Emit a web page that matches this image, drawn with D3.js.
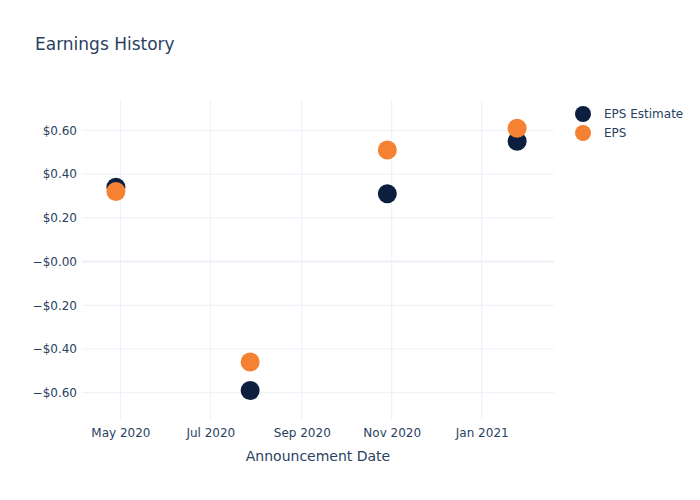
<!DOCTYPE html>
<html><head><meta charset="utf-8">
<script src="https://cdn.jsdelivr.net/npm/d3@7"></script>
<style>body{margin:0;background:#fff}svg,svg text{font-family:"DejaVu Sans",Verdana,sans-serif}</style>
</head><body><svg id="c" width="700" height="500"></svg>
<script>
const dates = ["2020-04-28","2020-07-28","2020-10-29","2021-01-25"];
const epsEstimate = [0.34,-0.59,0.31,0.55];
const eps = [0.32,-0.46,0.51,0.61];
const yTicks = [-0.6,-0.4,-0.2,0,0.2,0.4,0.6];
const xTicks = ["2020-05-01","2020-07-01","2020-09-01","2020-11-01","2021-01-01"];
const seriesNames = ["EPS Estimate","EPS"];
const colors = ["#0c1f3f","#f58233"];

const parse = d3.utcParse("%Y-%m-%d");
const svg = d3.select("#c");
const L=82,R=554,T=100,B=420;
const x = d3.scaleUtc().domain([parse("2020-04-05"),parse("2021-02-19")]).range([L,R]);
const y = d3.scaleLinear().domain([-0.725,0.739]).range([B,T]);
const txt="#2a3f5f", grid="#ebf0f8";
const FF='"DejaVu Sans",Verdana,sans-serif';

// grid
svg.append("g").selectAll("line").data(xTicks).join("line")
  .attr("x1",d=>x(parse(d))).attr("x2",d=>x(parse(d))).attr("y1",T).attr("y2",B)
  .attr("stroke",grid).attr("stroke-width",1);
svg.append("g").selectAll("line").data(yTicks).join("line")
  .attr("x1",L).attr("x2",R).attr("y1",d=>y(d)).attr("y2",d=>y(d))
  .attr("stroke",grid).attr("stroke-width",d=>d===0?2:1);

// axes
const yAxis = d3.axisLeft(y).tickValues(yTicks).tickSize(0).tickPadding(5)
  .tickFormat(d=> d<=0 ? "\u2212$"+Math.abs(d).toFixed(2) : "$"+d.toFixed(2));
const gy = svg.append("g").attr("transform",`translate(${L},0)`).call(yAxis)
  .attr("font-family",FF).attr("font-size",12);
gy.select(".domain").remove();
gy.selectAll("text").attr("fill",txt);

const xAxis = d3.axisBottom(x).tickValues(xTicks.map(parse)).tickSize(0).tickPadding(8)
  .tickFormat(d3.utcFormat("%b %Y"));
const gx = svg.append("g").attr("transform",`translate(0,${B})`).call(xAxis)
  .attr("font-family",FF).attr("font-size",12);
gx.select(".domain").remove();
gx.selectAll("text").attr("fill",txt);

// points
const series=[epsEstimate,eps];
series.forEach((vals,i)=>{
  svg.append("g").selectAll("circle").data(vals).join("circle")
    .attr("cx",(d,j)=>x(parse(dates[j]))).attr("cy",d=>y(d)).attr("r",9.5)
    .attr("fill",colors[i]);
});

// title
svg.append("text").attr("x",35).attr("y",50).attr("font-size",17).attr("fill",txt).text("Earnings History");
svg.append("text").attr("x",(L+R)/2).attr("y",461).attr("text-anchor","middle").attr("font-size",14).attr("fill",txt).text("Announcement Date");

// legend
const lg = svg.append("g");
seriesNames.forEach((n,i)=>{
  lg.append("circle").attr("cx",583).attr("cy",114+i*19).attr("r",8).attr("fill",colors[i]);
  lg.append("text").attr("x",604).attr("y",114+i*19).attr("dy","0.35em").attr("font-size",12).attr("fill",txt).text(n);
});
</script></body></html>
